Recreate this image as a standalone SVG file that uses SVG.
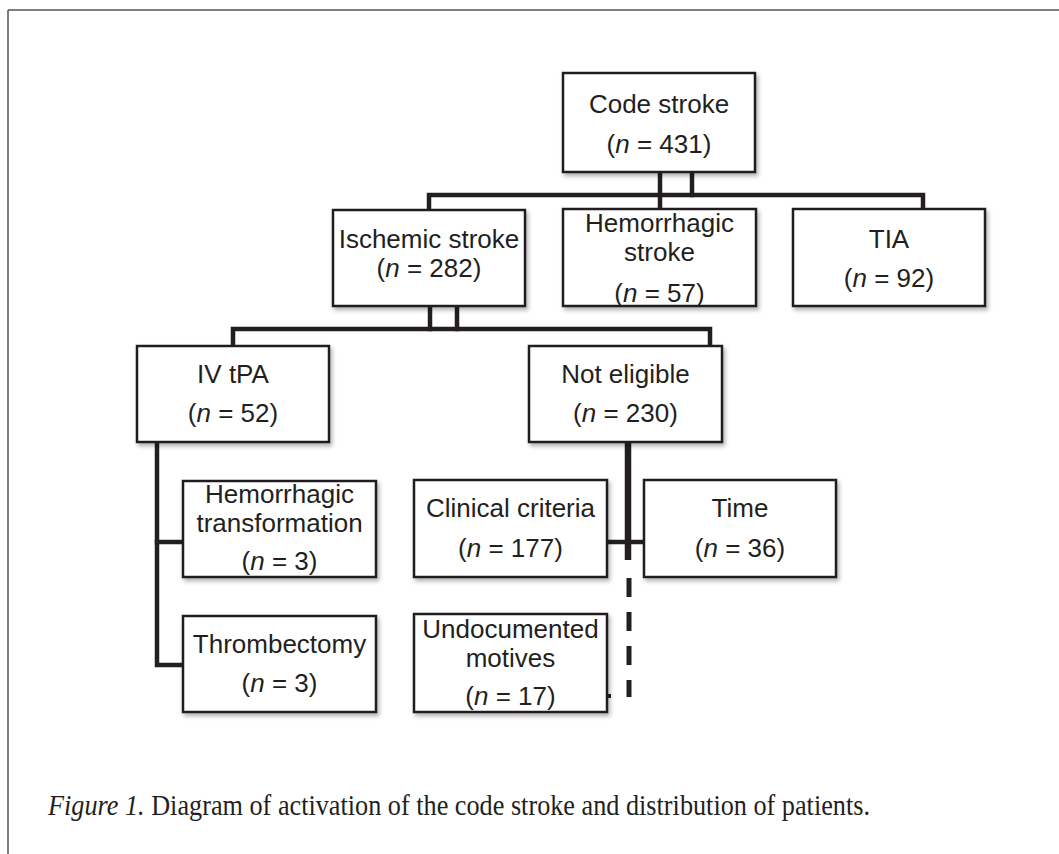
<svg xmlns="http://www.w3.org/2000/svg" width="1059" height="854" viewBox="0 0 1059 854">
<style>
.box{fill:#fff;stroke:#231f20;stroke-width:2.5;filter:url(#sh)}
.t{font-family:"Liberation Sans",Arial,sans-serif;font-size:26px;fill:#231f20;text-anchor:middle}
.c{stroke:#231f20;stroke-width:4.5;fill:none;stroke-linecap:square}
.cap{font-family:"Liberation Serif","Times New Roman",serif;font-size:29px;fill:#231f20}
</style>
<defs>
<filter id="sh" x="-10%" y="-10%" width="130%" height="130%">
<feDropShadow dx="2" dy="3" stdDeviation="2" flood-color="#000" flood-opacity="0.3"/>
</filter>
</defs>
<rect width="1059" height="854" fill="#fff"/>
<g id="frame" stroke="#555" stroke-width="1.5" fill="none">
<line x1="8" y1="10" x2="1059" y2="10"/>
<line x1="8" y1="10" x2="8" y2="854"/>
</g>
<g id="connectors">
<line class="c" x1="660" y1="172" x2="660" y2="208"/>
<line class="c" x1="692" y1="172" x2="692" y2="195"/>
<polyline class="c" points="429,209 429,195 923,195 923,208"/>
<line class="c" x1="430" y1="306" x2="430" y2="329"/>
<line class="c" x1="457" y1="306" x2="457" y2="329"/>
<polyline class="c" points="233,345 233,329 710,329 710,345"/>
<line x1="628" y1="442" x2="628" y2="560" stroke="#231f20" stroke-width="6.5"/>
<line class="c" x1="607" y1="542" x2="644" y2="542" stroke-linecap="butt"/>
<line x1="629" y1="578" x2="629" y2="697" stroke="#231f20" stroke-width="5" stroke-dasharray="19 15"/>
<line x1="607" y1="696" x2="611" y2="696" stroke="#231f20" stroke-width="4"/>
<polyline class="c" points="157,442 157,665 183,665" stroke-linecap="butt"/>
<line class="c" x1="157" y1="542" x2="183" y2="542" stroke-linecap="butt"/>
</g>
<g id="code-stroke">
<rect class="box" x="563" y="73" width="192" height="99"/>
<text class="t" x="659" y="113">Code stroke</text>
<text class="t" x="659" y="153">(<tspan font-style="italic">n</tspan> = 431)</text>
</g>
<g id="ischemic">
<rect class="box" x="333" y="210" width="192" height="96"/>
<text class="t" x="429" y="248">Ischemic stroke</text>
<text class="t" x="429" y="277">(<tspan font-style="italic">n</tspan> = 282)</text>
</g>
<g id="hemorrhagic">
<rect class="box" x="563" y="209" width="193" height="97"/>
<text class="t" x="659.5" y="232">Hemorrhagic</text>
<text class="t" x="659.5" y="261">stroke</text>
<text class="t" x="659.5" y="302">(<tspan font-style="italic">n</tspan> = 57)</text>
</g>
<g id="tia">
<rect class="box" x="793" y="209" width="192" height="97"/>
<text class="t" x="889" y="248">TIA</text>
<text class="t" x="889" y="287">(<tspan font-style="italic">n</tspan> = 92)</text>
</g>
<g id="iv-tpa">
<rect class="box" x="137" y="346" width="192" height="96"/>
<text class="t" x="233" y="383">IV tPA</text>
<text class="t" x="233" y="422">(<tspan font-style="italic">n</tspan> = 52)</text>
</g>
<g id="not-eligible">
<rect class="box" x="529" y="346" width="193" height="96"/>
<text class="t" x="625.5" y="383">Not eligible</text>
<text class="t" x="625.5" y="422">(<tspan font-style="italic">n</tspan> = 230)</text>
</g>
<g id="hemorrhagic-transformation">
<rect class="box" x="183" y="481" width="193" height="96"/>
<text class="t" x="279.5" y="503">Hemorrhagic</text>
<text class="t" x="279.5" y="532">transformation</text>
<text class="t" x="279.5" y="570">(<tspan font-style="italic">n</tspan> = 3)</text>
</g>
<g id="clinical-criteria">
<rect class="box" x="414" y="480" width="193" height="97"/>
<text class="t" x="510.5" y="517">Clinical criteria</text>
<text class="t" x="510.5" y="557">(<tspan font-style="italic">n</tspan> = 177)</text>
</g>
<g id="time">
<rect class="box" x="644" y="480" width="192" height="97"/>
<text class="t" x="740" y="517">Time</text>
<text class="t" x="740" y="557">(<tspan font-style="italic">n</tspan> = 36)</text>
</g>
<g id="thrombectomy">
<rect class="box" x="183" y="616" width="193" height="96"/>
<text class="t" x="279.5" y="653">Thrombectomy</text>
<text class="t" x="279.5" y="692">(<tspan font-style="italic">n</tspan> = 3)</text>
</g>
<g id="undocumented">
<rect class="box" x="414" y="614" width="193" height="98"/>
<text class="t" x="510.5" y="638">Undocumented</text>
<text class="t" x="510.5" y="667">motives</text>
<text class="t" x="510.5" y="705">(<tspan font-style="italic">n</tspan> = 17)</text>
</g>
<g id="caption">
<text class="cap" x="48" y="815" textLength="822" lengthAdjust="spacingAndGlyphs"><tspan font-style="italic">Figure 1.</tspan> Diagram of activation of the code stroke and distribution of patients.</text>
</g>
</svg>
